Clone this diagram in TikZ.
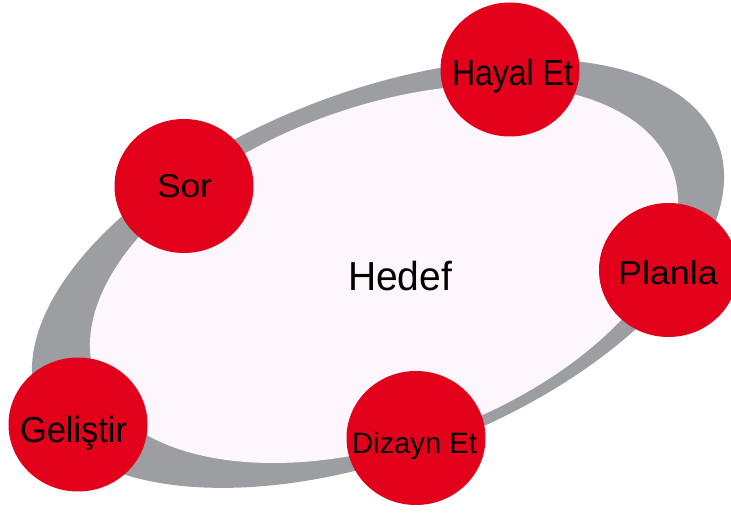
\documentclass[tikz,border=0pt]{standalone}
\usepackage{graphicx}
\usepackage{fontspec}
\setmainfont{Liberation Sans}
\usetikzlibrary{shapes.geometric}
\definecolor{ringgray}{RGB}{157,158,162}
\definecolor{innerpink}{RGB}{253,247,253}
\definecolor{stepred}{RGB}{227,0,27}
\newcommand\lbltxt[3]{\fontsize{#1}{#1}\selectfont\scalebox{#2}[1]{#3}}
\begin{document}
\begin{tikzpicture}[x=1pt,y=1pt,
  bubble/.style={ellipse, fill=stepred, minimum width=139pt, minimum height=134pt, inner sep=0pt},
  lbl/.style={anchor=base, inner sep=0pt, text=black}]
\useasboundingbox (0,0) rectangle (731,516);
\clip (0,0) rectangle (731,516);
% ring
\fill[ringgray, rotate around={21.1:(378,242.5)}] (378,242.5) ellipse [x radius=364.2pt, y radius=181.8pt];
\fill[innerpink, rotate around={19.8:(384,242)}] (384,242) ellipse [x radius=306.6pt, y radius=167.8pt];
\node[lbl] (hub) at (400,225) {\lbltxt{40.5}{0.962}{Hedef}};
% bubbles
\node[bubble] (c1) at (510,446.5) {};
\node[bubble] (c2) at (184,330) {};
\node[bubble] (c3) at (668.5,246) {};
\node[bubble] (c4) at (78,91.5) {};
\node[bubble] (c5) at (416,78) {};
\node[lbl] (t1) at (512.5,430) {\lbltxt{36.3}{0.882}{Hayal Et}};
\node[lbl] (t2) at (184.5,318) {\lbltxt{33}{1.07}{Sor}};
\node[lbl] (t3) at (668,231.5) {\lbltxt{33}{1.09}{Planla}};
\node[lbl] (t4) at (73.5,73) {\lbltxt{36.3}{0.947}{Geliştir}};
\node[lbl] (t5) at (414.5,62.5) {\lbltxt{29.5}{0.99}{Dizayn Et}};
\end{tikzpicture}
\end{document}
